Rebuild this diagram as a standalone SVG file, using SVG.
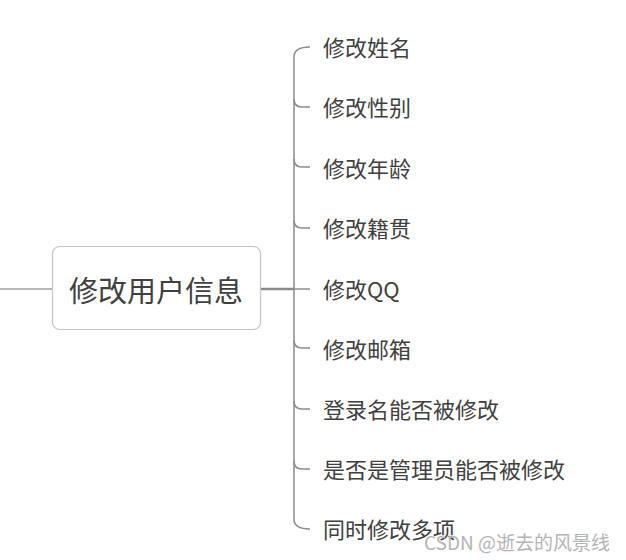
<svg xmlns="http://www.w3.org/2000/svg" width="626" height="560" viewBox="0 0 626 560">
<style>
.lbl{font-family:"Noto Sans CJK SC","Liberation Sans",sans-serif;font-size:22px;fill:#404040;dominant-baseline:central}
.ln{fill:none;stroke:#8c8c8c;stroke-width:1.5}
</style>
<rect width="626" height="560" fill="#fff"/>
<g id="connectors">
<line x1="0" y1="289" x2="52" y2="289" stroke="#a0a0a0" stroke-width="1.5"/>
<line x1="260" y1="289" x2="294" y2="289" stroke="#8a8a8a" stroke-width="2.5"/>
<line x1="294" y1="289" x2="310" y2="289" class="ln"/>
<path class="ln" d="M310,47 Q294,47 294,57 V519 Q294,529 310,529"/>
<path class="ln" d="M294,99 Q294,107 302,107 H310"/>
<path class="ln" d="M294,159 Q294,167 302,167 H310"/>
<path class="ln" d="M294,220 Q294,228 302,228 H310"/>
<path class="ln" d="M294,340 Q294,348 302,348 H310"/>
<path class="ln" d="M294,401 Q294,409 302,409 H310"/>
<path class="ln" d="M294,461 Q294,469 302,469 H310"/>
</g>
<g id="root">
<rect x="52.5" y="246.5" width="208" height="83" rx="7" fill="#fff" stroke="#c4c4c4" stroke-width="1.2"/>
<text x="156" y="289" text-anchor="middle" font-family="Noto Sans CJK SC, Liberation Sans, sans-serif" font-size="29" fill="#404040" dominant-baseline="central">修改用户信息</text>
</g>
<g id="n1"><text class="lbl" x="323" y="46">修改姓名</text></g>
<g id="n2"><text class="lbl" x="323" y="106">修改性别</text></g>
<g id="n3"><text class="lbl" x="323" y="167">修改年龄</text></g>
<g id="n4"><text class="lbl" x="323" y="227">修改籍贯</text></g>
<g id="n5"><text class="lbl" x="323" y="288">修改QQ</text></g>
<g id="n6"><text class="lbl" x="323" y="348">修改邮箱</text></g>
<g id="n7"><text class="lbl" x="323" y="408">登录名能否被修改</text></g>
<g id="n8"><text class="lbl" x="323" y="468">是否是管理员能否被修改</text></g>
<g id="n9"><text class="lbl" x="323" y="528">同时修改多项</text></g>
<text x="610" y="541" text-anchor="end" font-family="Noto Sans CJK SC, Liberation Sans, sans-serif" font-size="19" fill="#b4b4b4" dominant-baseline="central">CSDN @逝去的风景线</text>
</svg>
